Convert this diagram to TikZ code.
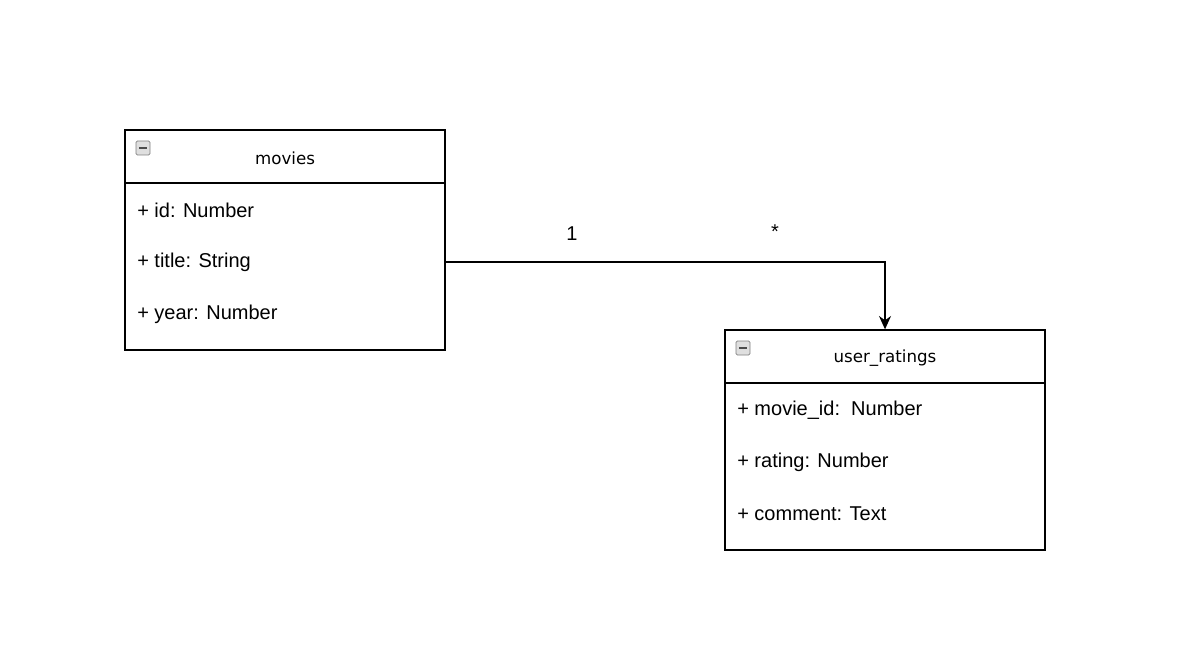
\documentclass[tikz,border=0pt]{standalone}
\usepackage{fontspec}
\setmainfont{Liberation Sans}
\newfontfamily\titlefont{DejaVu Sans}
\usetikzlibrary{arrows.meta}
\begin{document}
\begin{tikzpicture}[x=0.75pt,y=-0.75pt,
  box/.style={draw,line width=1pt},
  attr/.style={anchor=west,inner sep=0pt,font=\fontsize{15}{18}\selectfont},
  ttl/.style={inner sep=0pt,font=\titlefont\fontsize{12.5}{15}\selectfont},
  icon/.style={draw=gray,fill=gray!25,line width=0.6pt,minimum size=10.5pt,inner sep=0pt,rounded corners=1pt,
    path picture={\draw[line width=1.2pt,black!70] ([xshift=2.5pt]path picture bounding box.west) -- ([xshift=-2.5pt]path picture bounding box.east);}},
  lbl/.style={inner sep=0pt,font=\fontsize{15}{18}\selectfont}]
\useasboundingbox (0,0) rectangle (1180,648);
% movies
\node[box,minimum width=240pt,minimum height=165pt,inner sep=0pt] (movies) at (285,240) {};
\draw[line width=1pt] (125,183) -- (445,183);
\node[icon] (mi) at (143,148) {};
\node[ttl] (mt) at (285,158) {movies};
\node[attr] (m1) at (137,210) {+ id: Number};
\node[attr] (m2) at (137,262) {+ title: String};
\node[attr] (m3) at (137,314) {+ year: Number};
% user_ratings
\node[box,minimum width=240pt,minimum height=165pt,inner sep=0pt] (ur) at (885,440) {};
\draw[line width=1pt] (725,383) -- (1045,383);
\node[icon] (ui) at (743,348) {};
\node[ttl] (ut) at (885,358) {user\_ratings};
\node[attr] (u1) at (737,410) {+ movie\_id:\ \ Number};
\node[attr] (u2) at (737,462) {+ rating: Number};
\node[attr] (u3) at (737,514) {+ comment: Text};
% connector
\coordinate (s) at (445,262);
\draw[line width=1pt,-{Stealth[length=10pt,width=9pt]}] (s) -| (ur.north);
\node[lbl] (l1) at (572,234) {1};
\node[lbl] (l2) at (775,232) {*};
\end{tikzpicture}
\end{document}
